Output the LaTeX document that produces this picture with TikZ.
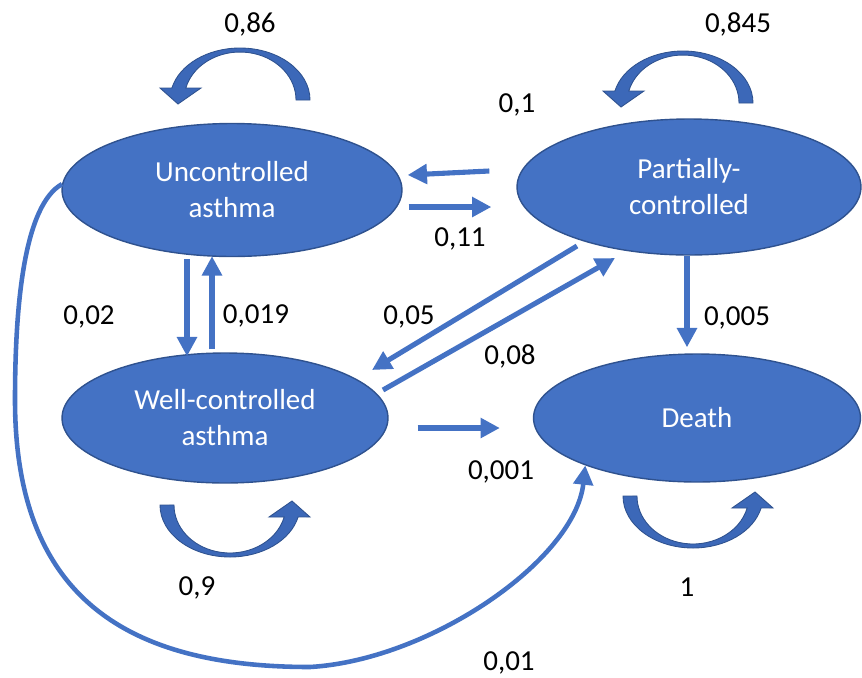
\documentclass[tikz,border=0pt]{standalone}
\usepackage{fontspec}
\setmainfont{Carlito}
\usetikzlibrary{shapes.geometric,arrows.meta}

\definecolor{stateblue}{HTML}{4472C4}
\definecolor{stateedge}{HTML}{2F528F}
\definecolor{loopblue}{HTML}{3C68B8}

\tikzset{
  state/.style={ellipse, fill=stateblue, draw=stateedge, line width=0.8pt,
    text=white, align=center, inner sep=0pt,
    font=\fontsize{16.5}{20.5}\selectfont},
  prob/.style={inner sep=0pt, font=\fontsize{16.5}{20}\selectfont},
  flow/.style={stateblue, line width=2.9pt,
    -{Triangle[length=11pt,width=11pt]}},
  selfloop/.pic={
    \filldraw[fill=loopblue, draw=stateedge, line width=0.5pt, line join=miter]
      (70,0) arc[start angle=0, end angle=-166.7, x radius=70, y radius=52]
      -- (-80,-12) -- (-62,4) -- (-39,-12) -- (-54.2,-12)
      arc[start angle=-165.5, end angle=0, x radius=56, y radius=48] -- cycle;
  }
}

\begin{document}
\begin{tikzpicture}[x=0.02cm, y=-0.02cm]
  \useasboundingbox (0,0) rectangle (862,677);

  % states
  \node[state, minimum width=6.8cm, minimum height=2.66cm] (unc) at (232,190) {Uncontrolled\\asthma};
  \node[state, minimum width=6.88cm, minimum height=2.72cm] (par) at (689,187) {Partially-\\controlled};
  \node[state, minimum width=6.52cm, minimum height=2.6cm] (well) at (225,418) {Well-controlled\\asthma};
  \node[state, minimum width=6.54cm, minimum height=2.56cm] (death) at (697,418) {Death};

  % staying in the same state
  \pic at (240,100) {selfloop};
  \pic at (683,103) {selfloop};
  \pic[rotate=180] at (230,505) {selfloop};
  \pic[rotate=180] at (693,496) {selfloop};

  % transitions
  \draw[flow] ([shift={(-27,-16)}]par.west) -- ([shift={(5,-15)}]unc.east);
  \draw[flow] ([shift={(6,17)}]unc.east) -- ([shift={(-25,20)}]par.west);
  \draw[flow] ([shift={(-45,2)}]unc.south) -- ([shift={(-38,4)}]well.north);
  \draw[flow] ([shift={(-13,-3)}]well.north) -- ([shift={(-20,-1)}]unc.south);
  \draw[flow] ([shift={(-112,59)}]par.center) -- ([shift={(147,-48)}]well.center);
  \draw[flow] ([shift={(158,-28)}]well.center) -- ([shift={(-74,71)}]par.center);
  \draw[flow] ([shift={(-2,0)}]par.south) -- ([shift={(-10,-6)}]death.north);
  \draw[flow] ([shift={(29,10)}]well.east) -- ([shift={(-33,10)}]death.west);
  \draw[flow, line width=2.6pt] (unc.178) .. controls (25,205) and (15,300) .. (15,400)
    .. controls (15,600) and (130,667) .. (310,667)
    .. controls (430,660) and (575,560) .. (death.203);

  % probabilities
  \node[prob] (p86) at (250,24) {0,86};
  \node[prob] (p845) at (738,24) {0,845};
  \node[prob] (p1) at (517,105) {0,1};
  \node[prob] (p11) at (460,239) {0,11};
  \node[prob] (p02) at (89,317) {0,02};
  \node[prob] (p019) at (256,316) {0,019};
  \node[prob] (p05) at (409,317) {0,05};
  \node[prob] (p08) at (510,356) {0,08};
  \node[prob] (p005) at (737,318) {0,005};
  \node[prob] (p001) at (501,472) {0,001};
  \node[prob] (p9) at (197,588) {0,9};
  \node[prob] (pdeath) at (687,587) {1};
  \node[prob] (p01) at (509,663) {0,01};
\end{tikzpicture}
\end{document}
